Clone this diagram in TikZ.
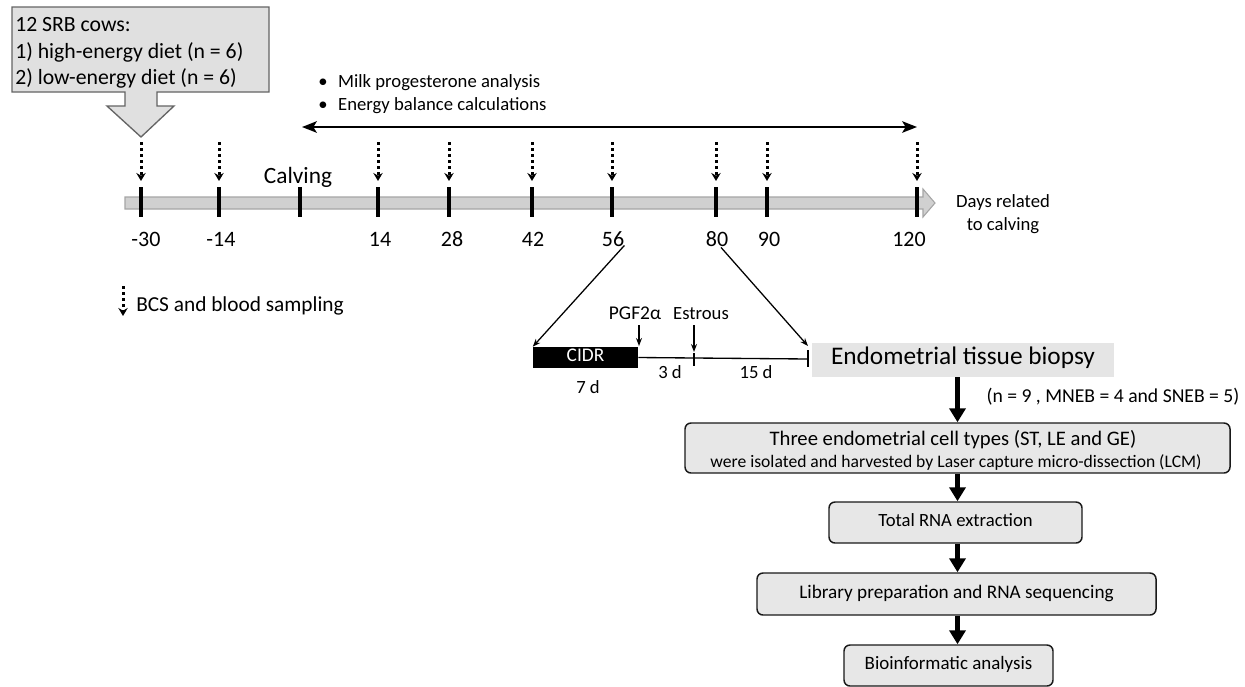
\documentclass[tikz,border=0pt]{standalone}
\usepackage{fontspec}
\setmainfont{Carlito}
\usetikzlibrary{arrows.meta,calc}
\definecolor{callfill}{RGB}{224,224,224}
\definecolor{calldraw}{RGB}{100,100,100}
\definecolor{barfill}{RGB}{208,208,208}
\definecolor{bardraw}{RGB}{165,165,165}
\definecolor{boxfill}{RGB}{231,231,231}
\definecolor{biofill}{RGB}{229,229,229}
\begin{document}
\begin{tikzpicture}[x=0.75pt,y=-0.75pt,
  lab/.style={inner sep=0pt,anchor=base,font=\fontsize{16.5}{19}\selectfont},
  labl/.style={inner sep=0pt,anchor=base west,font=\fontsize{16.3}{19}\selectfont},
  small/.style={inner sep=0pt,anchor=base,font=\fontsize{14}{17}\selectfont},
  tickmark/.style={line width=2.6pt},
  dotarrow/.style={line width=2.25pt,dash pattern=on 2.25pt off 2.25pt,-{Stealth[length=6pt,width=7pt,inset=2pt]}},
  dblarrow/.style={line width=2.2pt,{Stealth[length=11pt,width=8.5pt,inset=2.5pt]}-{Stealth[length=11pt,width=8.5pt,inset=2.5pt]}},
  thinarrow/.style={line width=0.95pt,-{Stealth[length=6pt,width=4.5pt]}},
  flowbox/.style={draw=black!90,line width=1.1pt,fill=boxfill,rounded corners=4.5pt,inner sep=0pt,
    text height=0.64em,text depth=0pt},
  flow/.style={line width=3.6pt,-{Triangle[length=10.5pt,width=12pt]}}]
\useasboundingbox (0,0) rectangle (1245,686);

% callout box
\draw[fill=callfill,draw=calldraw,line width=1pt]
  (12,7) -- (269,7) -- (269,92) -- (157,92) -- (157,106) -- (174,106) -- (141,137)
  -- (107,106) -- (125,106) -- (125,92) -- (12,92) -- cycle;
\node[labl] (c1) at (15,31) {12 SRB cows:};
\node[labl] (c2) at (15,58) {1) high-energy diet (n = 6)};
\node[labl] (c3) at (15,84) {2) low-energy diet (n = 6)};

% bullets
\node[inner sep=0pt,anchor=base west,font=\fontsize{14}{17}\selectfont] (b1) at (318,87) {\textbullet\hskip 8pt Milk progesterone analysis};
\node[inner sep=0pt,anchor=base west,font=\fontsize{14}{17}\selectfont] (b2) at (318,110) {\textbullet\hskip 8pt Energy balance calculations};

% double arrow
\coordinate (ebL) at (302,127);
\coordinate (ebR) at (917,127);
\draw[dblarrow] (ebL) -- (ebR);

% timeline bar
\draw[fill=barfill,draw=bardraw,line width=0.8pt]
  (125,197) -- (923,197) -- (923,189) -- (935,203) -- (923,217) -- (923,209) -- (125,209) -- cycle;
\foreach \x in {141,219,300,378,449,532,612,716,767,917}
  \draw[tickmark] (\x,187) -- (\x,217);
\foreach \x in {141,219,378,449,532,612,716,767,917}{
  \coordinate (dtop\x) at (\x,142);
  \coordinate (dbot\x) at (\x,181);
  \draw[dotarrow] (dtop\x) -- (dbot\x);
}
\node[lab,font=\fontsize{17.5}{20}\selectfont] (calv) at (298,183) {Calving};
\node[lab] (l-30) at (146,246) {-30};
\node[lab] (l-14) at (221,246) {-14};
\node[lab] (l14) at (380,246) {14};
\node[lab] (l28) at (452,246) {28};
\node[lab] (l42) at (533,246) {42};
\node[lab] (l56) at (613,246) {56};
\node[lab] (l80) at (717,246) {80};
\node[lab] (l90) at (769,246) {90};
\node[lab] (l120) at (909,246) {120};
\node[small] (days1) at (1003,207) {Days related};
\node[small] (days2) at (1003,230) {to calving};

% legend
\coordinate (legtop) at (123,286);
\coordinate (legbot) at (123,316);
\draw[dotarrow] (legtop) -- (legbot);
\node[inner sep=0pt,anchor=base west,font=\fontsize{16}{19}\selectfont] (legtxt) at (136,311) {BCS and blood sampling};

% CIDR protocol
\node[fill=black,text=white,inner sep=0pt,minimum width=78.75pt,minimum height=15.75pt,
  font=\fontsize{14.5}{17}\selectfont,text height=0.64em,text depth=0pt] (cidr) at (585.5,357.5) {CIDR};
\coordinate (est) at (694,359);
\coordinate (endb) at (808,359);
\draw[line width=1pt] (cidr.east) -- (endb);
\draw[line width=1pt] (694,353) -- (694,366);
\draw[line width=1pt] (808,350) -- (808,367);
\coordinate (pgftop) at (639,325);
\coordinate (esttop) at (694,325);
\draw[thinarrow] (pgftop) -- (639,346);
\draw[thinarrow] (esttop) -- (694,352);
\node[small,font=\fontsize{14.6}{17}\selectfont] (pgf) at (635,319) {PGF2α};
\node[small] (estr) at (701,319) {Estrous};
\node[small] (d3) at (670,378) {3 d};
\node[small] (d15) at (756,378) {15 d};
\node[small] (d7) at (588,393) {7 d};
\coordinate (endtop) at (808,346);
\draw[thinarrow] ($(l56.south east)+(0,-1)$) -- (cidr.north west);
\draw[thinarrow] ($(l80.south)+(4,1)$) -- (endtop);

% biopsy and workflow
\node[fill=biofill,inner sep=0pt,minimum width=226.5pt,minimum height=25.5pt,
  font=\fontsize{19}{22}\selectfont,text height=0.64em,text depth=0pt] (bio) at (963,360) {Endometrial tissue biopsy};
\node[inner sep=0pt,anchor=base,font=\fontsize{14.75}{17}\selectfont] (nn) at (1113,402) {(n = 9 , MNEB = 4 and SNEB = 5)};

\node[flowbox,minimum width=408.75pt,minimum height=37.5pt] (three) at (957.5,448) {};
\node[inner sep=0pt,anchor=base,font=\fontsize{15.5}{18}\selectfont] (three1) at (953,445) {Three endometrial cell types (ST, LE and GE)};
\node[inner sep=0pt,anchor=base,font=\fontsize{13.2}{16}\selectfont] (three2) at (956,467) {were isolated and harvested by Laser capture micro-dissection (LCM)};

\node[flowbox,minimum width=189.75pt,minimum height=30.75pt,font=\fontsize{14}{17}\selectfont] (total) at (955.5,522.5) {Total RNA extraction};
\node[flowbox,minimum width=299.25pt,minimum height=31.5pt,font=\fontsize{14.4}{17}\selectfont] (lib) at (956.5,594) {Library preparation and RNA sequencing};
\node[flowbox,minimum width=156.75pt,minimum height=30.75pt,font=\fontsize{14.2}{17}\selectfont] (bioinf) at (948.5,665.5) {Bioinformatic analysis};

\draw[flow] (bio.south -| three.north) -- (three.north);
\draw[flow] (three.south) -- (three.south |- total.north);
\draw[flow] (three.south |- total.south) -- (three.south |- lib.north);
\draw[flow] (three.south |- lib.south) -- (three.south |- bioinf.north);
\end{tikzpicture}
\end{document}
